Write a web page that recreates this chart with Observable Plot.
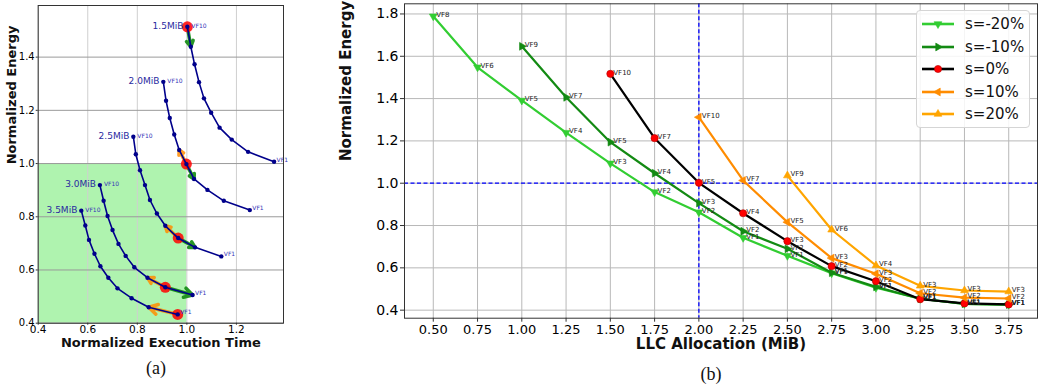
<!DOCTYPE html>
<html><head><meta charset="utf-8">
<script src="https://cdn.jsdelivr.net/npm/d3@7"></script>
<script src="https://cdn.jsdelivr.net/npm/@observablehq/plot@0.6"></script>
<style>
body{margin:0;background:#fff;font-family:"DejaVu Sans",sans-serif;}
#wrap{position:relative;width:1039px;height:387px;overflow:hidden;background:#fff;}
#pa{position:absolute;left:0;top:0;}
#pb{position:absolute;left:335px;top:0;}
.cap{position:absolute;font-family:"Liberation Serif","DejaVu Serif",serif;font-size:18px;transform:translate(-50%,-50%);color:#111;}
#legend{position:absolute;left:916px;top:10px;width:112px;height:116px;border:1px solid #d5d5d5;border-radius:4px;background:rgba(255,255,255,0.85);}
.lrow{position:absolute;left:0;height:20px;width:112px;}
.lrow svg{position:absolute;left:4px;top:0;}
.lrow span{position:absolute;left:48px;top:50%;transform:translateY(-50%);font-size:15px;color:#111;white-space:nowrap;}
</style></head>
<body>
<div id="wrap">
  <div id="pa"></div>
  <div id="pb"></div>
  <div class="cap" style="left:156px;top:368px">(a)</div>
  <div class="cap" style="left:711px;top:374px">(b)</div>
  <div id="legend"></div>
</div>
<script>
// ---------------- Panel (a) data ----------------
const allocLabels = ["1.5MiB", "2.0MiB", "2.5MiB", "3.0MiB", "3.5MiB"];
const vfNames = ["VF10", "VF9", "VF8", "VF7", "VF6", "VF5", "VF4", "VF3", "VF2", "VF1"];
const time15 = [1.002, 1.016, 1.031, 1.049, 1.069, 1.098, 1.132, 1.181, 1.247, 1.352];
const energy15 = [1.514, 1.439, 1.373, 1.306, 1.245, 1.191, 1.135, 1.090, 1.044, 1.007];
const time20 = [0.905, 0.916, 0.931, 0.949, 0.969, 0.998, 1.029, 1.083, 1.149, 1.254];
const energy20 = [1.307, 1.236, 1.171, 1.109, 1.051, 0.998, 0.942, 0.901, 0.860, 0.825];
const time25 = [0.784, 0.794, 0.811, 0.831, 0.851, 0.879, 0.913, 0.965, 1.033, 1.139];
const energy25 = [1.101, 1.035, 0.975, 0.919, 0.863, 0.812, 0.766, 0.720, 0.685, 0.651];
const time30 = [0.649, 0.664, 0.680, 0.700, 0.724, 0.753, 0.788, 0.841, 0.913, 1.023];
const energy30 = [0.919, 0.860, 0.803, 0.750, 0.698, 0.653, 0.610, 0.571, 0.535, 0.506];
const time35 = [0.574, 0.590, 0.605, 0.627, 0.651, 0.683, 0.720, 0.777, 0.846, 0.963];
const energy35 = [0.823, 0.767, 0.713, 0.661, 0.614, 0.571, 0.531, 0.494, 0.460, 0.433];
const baseVF = ["VF10", "VF5", "VF3", "VF2", "VF1"]; // s=0% operating point per allocation
const targetTime = 1.0, targetEnergy = 1.0;
const ticksTimeA = [0.4, 0.6, 0.8, 1.0, 1.2];
const ticksEnergyA = [0.4, 0.6, 0.8, 1.0, 1.2, 1.4];

// ---------------- Panel (b) data ----------------
const seriesNames = ["s=-20%", "s=-10%", "s=0%", "s=10%", "s=20%"];
const seriesColors = ["#32cd32", "#138a13", "#000000", "#ff8c00", "#ffa500"];
const markerFills = ["#32cd32", "#138a13", "#ff0000", "#ff8c00", "#ffa500"];
const markerSymbols = ["triangle", "triangle", "circle", "triangle", "triangle"];
const markerRotations = [180, 90, 0, -90, 0];
const llcM20 = [0.5, 0.75, 1.0, 1.25, 1.5, 1.75, 2.0, 2.25, 2.5, 2.75, 3.0, 3.25, 3.5, 3.75];
const enM20 = [1.789, 1.548, 1.391, 1.239, 1.094, 0.958, 0.863, 0.742, 0.657, 0.575, 0.506, 0.454, 0.430, 0.426];
const vfM20 = ["VF8", "VF6", "VF5", "VF4", "VF3", "VF2", "VF2", "VF1", "VF1", "VF1", "VF1", "VF1", "VF1", "VF1"];
const llcM10 = [1.0, 1.25, 1.5, 1.75, 2.0, 2.25, 2.5, 2.75, 3.0, 3.25, 3.5, 3.75];
const enM10 = [1.647, 1.406, 1.194, 1.047, 0.906, 0.773, 0.690, 0.577, 0.510, 0.454, 0.430, 0.426];
const vfM10 = ["VF9", "VF7", "VF5", "VF4", "VF3", "VF2", "VF2", "VF1", "VF1", "VF1", "VF1", "VF1"];
const llcS0 = [1.5, 1.75, 2.0, 2.25, 2.5, 2.75, 3.0, 3.25, 3.5, 3.75];
const enS0 = [1.517, 1.213, 1.002, 0.858, 0.726, 0.608, 0.537, 0.452, 0.432, 0.427];
const vfS0 = ["VF10", "VF7", "VF5", "VF4", "VF3", "VF2", "VF2", "VF1", "VF1", "VF1"];
const llcP10 = [2.0, 2.25, 2.5, 2.75, 3.0, 3.25, 3.5, 3.75];
const enP10 = [1.312, 1.013, 0.816, 0.646, 0.572, 0.480, 0.459, 0.455];
const vfP10 = ["VF10", "VF7", "VF5", "VF3", "VF3", "VF2", "VF2", "VF2"];
const llcP20 = [2.5, 2.75, 3.0, 3.25, 3.5, 3.75];
const enP20 = [1.036, 0.780, 0.611, 0.515, 0.493, 0.488];
const vfP20 = ["VF9", "VF6", "VF4", "VF3", "VF3", "VF3"];
const refLLC = [2.0];
const refEnergy = [1.0];
const ticksLLC = [0.5, 0.75, 1.0, 1.25, 1.5, 1.75, 2.0, 2.25, 2.5, 2.75, 3.0, 3.25, 3.5, 3.75];
const ticksEnergyB = [0.4, 0.6, 0.8, 1.0, 1.2, 1.4, 1.6, 1.8];

// ---------------- build panel (a) ----------------
const timesA = [time15, time20, time25, time30, time35];
const energiesA = [energy15, energy20, energy25, energy30, energy35];
const curveRows = [];
allocLabels.forEach((a, i) => vfNames.forEach((vf, j) =>
  curveRows.push({alloc: a, vf, t: timesA[i][j], e: energiesA[i][j]})));
const byAlloc = d3.group(curveRows, d => d.alloc);
const baseRows = [], orangeArrows = [], greenArrows = [];
allocLabels.forEach((a, i) => {
  const rows = byAlloc.get(a);
  const b = vfNames.indexOf(baseVF[i]);
  baseRows.push(rows[b]);
  if (b - 1 >= 0) orangeArrows.push({x1: rows[b].t, y1: rows[b].e, x2: rows[b - 1].t, y2: rows[b - 1].e});
  if (b + 1 < rows.length) greenArrows.push({x1: rows[b].t, y1: rows[b].e, x2: rows[b + 1].t, y2: rows[b + 1].e});
});
const firstRows = allocLabels.map(a => byAlloc.get(a)[0]);
const lastRows = allocLabels.map(a => byAlloc.get(a)[vfNames.length - 1]);
const xDomA = [0.4, 1.39], yDomA = [0.4, 1.594];

const pa = Plot.plot({
  width: 290, height: 356,
  marginLeft: 37.7, marginRight: 7, marginTop: 5, marginBottom: 33.3,
  style: {fontFamily: "DejaVu Sans", background: "transparent"},
  x: {domain: xDomA},
  y: {domain: yDomA},
  marks: [
    Plot.rect([{x1: xDomA[0], x2: targetTime, y1: yDomA[0], y2: targetEnergy}],
      {x1: "x1", x2: "x2", y1: "y1", y2: "y2", fill: "#90ee90", fillOpacity: 0.72}),
    Plot.gridX(ticksTimeA, {stroke: "#cfcfcf", strokeOpacity: 1}),
    Plot.gridY(ticksEnergyA, {stroke: "#9a9a9a", strokeOpacity: 1}),
    Plot.arrow(orangeArrows, {x1: "x1", y1: "y1", x2: "x2", y2: "y2", stroke: "#ff8c00", strokeOpacity: 0.85, strokeWidth: 3.5, headLength: 8}),
    Plot.arrow(greenArrows, {x1: "x1", y1: "y1", x2: "x2", y2: "y2", stroke: "#108a10", strokeOpacity: 0.9, strokeWidth: 3.5, headLength: 9}),
    Plot.dot(baseRows, {x: "t", y: "e", r: 5.5, fill: "#ff0000", fillOpacity: 0.85}),
    Plot.line(curveRows, {x: "t", y: "e", z: "alloc", stroke: "#00008b", strokeWidth: 1.6}),
    Plot.dot(curveRows, {x: "t", y: "e", r: 2.2, fill: "#00008b"}),
    Plot.text(firstRows, {x: "t", y: "e", text: "alloc", textAnchor: "end", dx: -4, dy: -1, fontSize: 9, fill: "#2a2aa0"}),
    Plot.text(firstRows, {x: "t", y: "e", text: "vf", textAnchor: "start", dx: 4, dy: -1, fontSize: 6, fill: "#3535b8"}),
    Plot.text(lastRows, {x: "t", y: "e", text: "vf", textAnchor: "start", dx: 2.5, dy: -2, fontSize: 6, fill: "#3535b8"}),
    Plot.frame({stroke: "#333"}),
    Plot.axisX(ticksTimeA, {tickSize: 2, tickPadding: 0.5, fontSize: 10.5, tickFormat: d => d.toFixed(1), label: null, stroke: "#333"}),
    Plot.axisY(ticksEnergyA, {tickSize: 2, tickPadding: 1.5, fontSize: 10, tickFormat: d => d.toFixed(1), label: null, stroke: "#333"}),
    Plot.text(["Normalized Execution Time"], {frameAnchor: "bottom", dy: 23.5, fontWeight: "bold", fontSize: 13, fill: "#111"}),
    Plot.text(["Normalized Energy"], {frameAnchor: "left", rotate: -90, dx: -26.5, fontWeight: "bold", fontSize: 13, fill: "#111"})
  ]
});
document.getElementById("pa").appendChild(pa);

// ---------------- build panel (b) ----------------
const llcs = [llcM20, llcM10, llcS0, llcP10, llcP20];
const ens = [enM20, enM10, enS0, enP10, enP20];
const vfs = [vfM20, vfM10, vfS0, vfP10, vfP20];
const seriesRows = seriesNames.map((s, i) => llcs[i].map((x, j) => ({series: s, llc: x, e: ens[i][j], vf: vfs[i][j]})));
const marksB = [
  Plot.gridX(ticksLLC, {stroke: "#b8b8b8", strokeOpacity: 1}),
  Plot.gridY(ticksEnergyB, {stroke: "#b8b8b8", strokeOpacity: 1}),
  Plot.ruleY(refEnergy, {stroke: "#0000ff", strokeWidth: 1.3, strokeDasharray: "4,2.5"}),
  Plot.ruleX(refLLC, {stroke: "#0000ff", strokeWidth: 1.3, strokeDasharray: "4,2.5"})
];
seriesRows.forEach((rows, i) => {
  marksB.push(Plot.line(rows, {x: "llc", y: "e", stroke: seriesColors[i], strokeWidth: 2.2}));
  marksB.push(Plot.dot(rows, {x: "llc", y: "e", symbol: markerSymbols[i], rotate: markerRotations[i],
    r: markerSymbols[i] === "circle" ? 3.6 : 2.9, fill: markerFills[i],
    stroke: markerSymbols[i] === "circle" ? "#b00000" : markerFills[i], strokeWidth: 0.6}));
});
seriesRows.forEach(rows => {
  marksB.push(Plot.text(rows, {x: "llc", y: "e", text: "vf", textAnchor: "start", dx: 3, dy: -1.5, fontSize: 7, fill: "#222"}));
});
marksB.push(
  Plot.frame({stroke: "#333"}),
  Plot.axisX(ticksLLC, {tickSize: 4, tickPadding: 2.5, fontSize: 13, tickFormat: d => d.toFixed(2), label: null, stroke: "#333"}),
  Plot.axisY(ticksEnergyB, {tickSize: 4, tickPadding: 2, fontSize: 14, tickFormat: d => d.toFixed(1), label: null, stroke: "#333"}),
  Plot.text(["LLC Allocation (MiB)"], {frameAnchor: "bottom", dy: 31, fontWeight: "bold", fontSize: 15, fill: "#111"}),
  Plot.text(["Normalized Energy"], {frameAnchor: "left", rotate: -90, dx: -58.5, fontWeight: "bold", fontSize: 15, fill: "#111"})
);
const pb = Plot.plot({
  width: 704, height: 362,
  marginLeft: 69, marginRight: 2, marginTop: 3.3, marginBottom: 44.3,
  style: {fontFamily: "DejaVu Sans", background: "transparent"},
  x: {domain: [0.3375, 3.9125]},
  y: {domain: [0.362, 1.848]},
  marks: marksB
});
document.getElementById("pb").appendChild(pb);

// ---------------- legend ----------------
const legend = d3.select("#legend");
seriesNames.forEach((s, i) => {
  const row = legend.append("div").attr("class", "lrow").style("top", (3.3 + i * 22.5) + "px");
  const svg = row.append("svg").attr("width", 34).attr("height", 20);
  svg.append("line").attr("x1", 1).attr("x2", 33).attr("y1", 10).attr("y2", 10)
    .attr("stroke", seriesColors[i]).attr("stroke-width", 2.6);
  const sym = markerSymbols[i] === "circle" ? d3.symbolCircle : d3.symbolTriangle;
  const size = markerSymbols[i] === "circle" ? Math.PI * 3.6 * 3.6 : Math.PI * 2.9 * 2.9;
  svg.append("path").attr("d", d3.symbol(sym, size)())
    .attr("transform", `translate(17,10) rotate(${markerRotations[i]})`)
    .attr("fill", markerFills[i])
    .attr("stroke", markerSymbols[i] === "circle" ? "#b00000" : markerFills[i]).attr("stroke-width", 0.6);
  row.append("span").text(s);
});
</script>
</body></html>
